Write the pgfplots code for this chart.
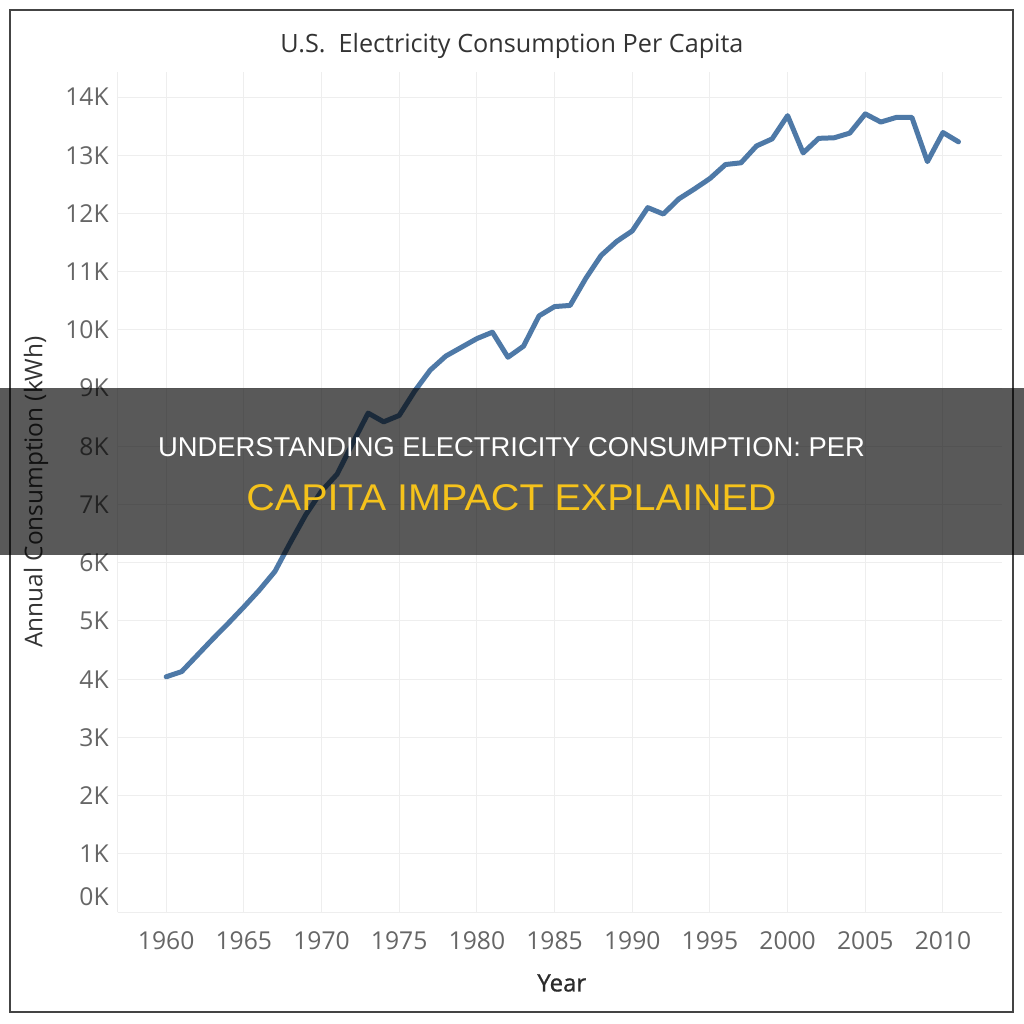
\documentclass[border=0pt]{standalone}
\usepackage{graphicx}
\usepackage{pgfplots}
\pgfplotsset{compat=1.18}
\usepackage{fontspec}
\setmainfont{Open Sans}
\newfontfamily\bannerfont{Liberation Sans}
\newfontfamily\semiboldfont[FakeBold=0.8]{Open Sans}
\definecolor{lineblue}{HTML}{4E79A7}
\definecolor{gridgray}{HTML}{EEEEEE}
\definecolor{ticktext}{HTML}{666666}
\definecolor{labeltext}{HTML}{333333}
\definecolor{framegray}{HTML}{444444}
\definecolor{banneryellow}{HTML}{F5C21B}

\begin{document}
\begin{tikzpicture}
\path[fill=white] (0,0) rectangle (768pt,768pt);
\draw[framegray, line width=1.5pt] (7.5pt,9pt) rectangle (759.75pt,760.5pt);
\begin{axis}[
  at={(88.5pt,84pt)}, anchor=south west,
  scale only axis, width=663pt, height=630pt,
  xmin=1956.9, xmax=2013.8, ymin=0, ymax=14430,
  scaled x ticks=false, scaled y ticks=false,
  xtick={1960,1965,...,2010},
  ytick={1000,2000,...,14000},
  extra y ticks={0},
  extra y tick style={yticklabel style={yshift=11.25pt}},
  major tick length=0pt,
  axis x line*=bottom, axis y line*=left,
  axis line style={-, draw=gridgray, line width=0.75pt},
  grid=major,
  major grid style={draw=gridgray, line width=0.75pt},
  xticklabel={\pgfmathparse{int(round(\tick))}\pgfmathresult},
  yticklabel={\pgfmathparse{int(round(\tick/1000))}\pgfmathresult K},
  xticklabel style={font=\fontsize{18.5}{22}\selectfont, text=ticktext, anchor=north, inner sep=0pt, yshift=-14.25pt},
  yticklabel style={font=\fontsize{18.5}{22}\selectfont, text=ticktext, anchor=east, inner sep=0pt, xshift=-6.75pt},
  xlabel={Year},
  ylabel={Annual Consumption (kWh)},
  xlabel style={font=\semiboldfont\fontsize{18}{22}\selectfont, text=labeltext!85!black, at={(axis description cs:0.502,-0.0845)}, anchor=center},
  ylabel style={font=\fontsize{18.3}{22}\selectfont, text=labeltext, at={(axis description cs:-0.0928,0.5)}, anchor=center, rotate=0},
]
\addplot[lineblue, line width=3.75pt, line join=round, line cap=round] coordinates {
(1960,4040) (1961,4130) (1962,4410) (1963,4690) (1964,4960) (1965,5240)
(1966,5530) (1967,5850) (1968,6350) (1969,6830) (1970,7230) (1971,7520)
(1972,8050) (1973,8570) (1974,8420) (1975,8530) (1976,8950) (1977,9310)
(1978,9550) (1979,9700) (1980,9850) (1981,9960) (1982,9530) (1983,9720)
(1984,10240) (1985,10400) (1986,10420) (1987,10880) (1988,11280) (1989,11520)
(1990,11700) (1991,12100) (1992,11990) (1993,12250) (1994,12420) (1995,12600)
(1996,12840) (1997,12870) (1998,13160) (1999,13280) (2000,13680) (2001,13040)
(2002,13290) (2003,13300) (2004,13380) (2005,13710) (2006,13570) (2007,13650)
(2008,13650) (2009,12890) (2010,13390) (2011,13230)
};
\end{axis}
\node[anchor=base, inner sep=0pt, text=labeltext, font=\fontsize{18.9}{22}\selectfont] at (384pt,728.25pt) {U.S.\ \ Electricity Consumption Per Capita};
\fill[black, opacity=0.65] (0,351.75pt) rectangle (768pt,477pt);
\node[anchor=base, inner sep=0pt, text=white] at (383.6pt,425.25pt) {\resizebox{530pt}{14.25pt}{\bannerfont UNDERSTANDING ELECTRICITY CONSUMPTION: PER}};
\node[anchor=base, inner sep=0pt, text=banneryellow] at (383.6pt,384.75pt) {\resizebox{397.5pt}{19.5pt}{\bannerfont CAPITA IMPACT EXPLAINED}};
\end{tikzpicture}
\end{document}
